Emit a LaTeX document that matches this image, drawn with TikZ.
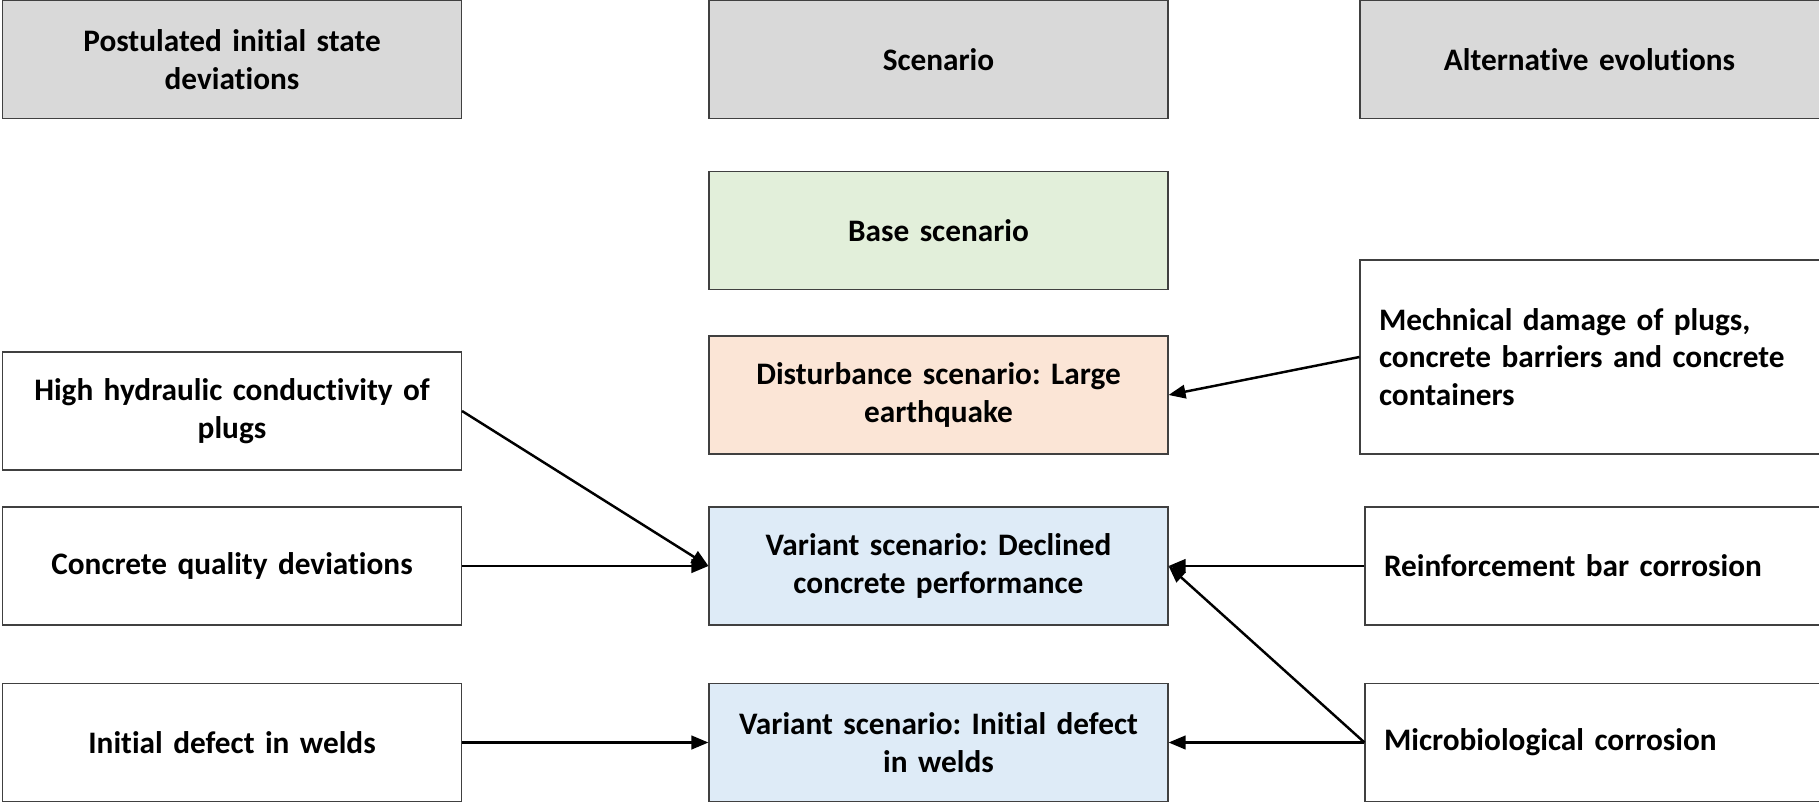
\documentclass[tikz,border=0pt]{standalone}
\usepackage{fontspec}
\setmainfont[Ligatures=NoCommon]{Carlito}
\usetikzlibrary{arrows.meta}
\frenchspacing
\definecolor{headfill}{HTML}{D9D9D9}
\definecolor{basefill}{HTML}{E2EFDA}
\definecolor{distfill}{HTML}{FBE5D6}
\definecolor{varfill}{HTML}{DEEBF7}
\colorlet{edge}{black!75}
\tikzset{
	box/.style={draw=edge, line width=0.6pt, fill=white, minimum width=9.18cm, minimum height=2.36cm,
		inner sep=0.38cm, text width=8.42cm, align=center, font=\bfseries\fontsize{17.8}{21.5}\selectfont},
	leftbox/.style={box, align=left},
	link/.style={-{Triangle[length=0.34cm,width=0.27cm]}, line width=1.4pt}
}

\begin{document}
\begin{tikzpicture}
	    \useasboundingbox (0,0) rectangle (36.38,-16.08);
	    % column heads
	    \node[box, fill=headfill] (hdev) at (4.64,-1.19) {Postulated initial state\\deviations};
	    \node[box, fill=headfill] (hscen) at (18.77,-1.19) {Scenario};
	    \node[box, fill=headfill] (halt) at (31.79,-1.19) {Alternative evolutions};
	    % scenarios
	    \node[box, fill=basefill] (base) at (18.77,-4.61) {Base scenario};
	    \node[box, fill=distfill] (quake) at (18.77,-7.90) {Disturbance scenario: Large\\earthquake};
	    \node[box, fill=varfill] (concr) at (18.77,-11.32) {Variant scenario: Declined\\concrete performance};
	    \node[box, fill=varfill] (welds) at (18.77,-14.85) {Variant scenario: Initial defect\\in welds};
	    % deviations
	    \node[box] (hydr) at (4.64,-8.22) {High hydraulic conductivity of\\plugs};
	    \node[box] (qual) at (4.64,-11.32) {Concrete quality deviations};
	    \node[box] (defect) at (4.64,-14.85) {Initial defect in welds};
	    % evolutions
	    \node[leftbox, minimum height=3.88cm] (mech) at (31.79,-7.14) {Mechnical damage of plugs,\\concrete barriers and concrete\\containers};
	    \node[leftbox] (rebar) at (31.89,-11.32) {Reinforcement bar corrosion};
	    \node[leftbox] (micro) at (31.89,-14.85) {Microbiological corrosion};
	    % links
	    \draw[link] (mech.west) -- (quake.east);
	    \draw[link] (hydr.east) -- (concr.west);
	    \draw[link] (qual.east) -- (concr.west);
	    \draw[link] (rebar.west) -- (concr.east);
	    \draw[link] (micro.west) -- (concr.east);
	    \draw[link] (micro.west) -- (welds.east);
	    \draw[link] (defect.east) -- (welds.west);
        \end{tikzpicture}
\end{document}
